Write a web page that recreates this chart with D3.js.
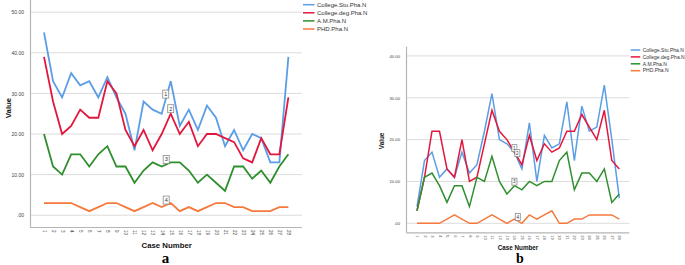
<!DOCTYPE html>
<html>
<head>
<meta charset="utf-8">
<script src="https://cdn.jsdelivr.net/npm/d3@7"></script>
<style>
  html, body { margin: 0; padding: 0; background: #fff; }
  svg { display: block; font-family: "Liberation Sans", Arial, sans-serif; }
</style>
</head>
<body>
<svg id="chart" width="685" height="265"></svg>
<script>
// Case numbers on the x axis
const cases = [1, 2, 3, 4, 5, 6, 7, 8, 9, 10, 11, 12, 13, 14, 15, 16, 17, 18, 19, 20, 21, 22, 23, 24, 25, 26, 27, 28];
const seriesNames = ['College.Stu.Pha.N', 'College.deg.Pha.N', 'A.M.Pha.N', 'PHD.Pha.N'];
const seriesColors = ['#5b9ee6', '#e3173e', '#2f8f2f', '#f6793c'];

// Panel a
const stuA = [45, 33, 29, 35, 32, 33, 29, 34, 29, 25, 16, 28, 26, 25, 33, 22, 26, 21, 27, 24, 17, 21, 16, 20, 19, 13, 13, 39];
const degA = [39, 28, 20, 22, 26, 24, 24, 33, 30, 21, 17, 21, 16, 20, 25, 20, 23, 17, 20, 20, 19, 18, 14, 13, 19, 15, 15, 29];
const amA  = [20, 12, 10, 15, 15, 12, 15, 17, 12, 12, 8, 11, 13, 12, 13, 13, 11, 8, 10, 8, 6, 12, 12, 9, 11, 8, 12, 15];
const phdA = [3, 3, 3, 3, 2, 1, 2, 3, 3, 2, 1, 2, 3, 2, 3, 1, 2, 1, 2, 3, 3, 2, 2, 1, 1, 1, 2, 2];
const ticksA = [0, 10, 20, 30, 40, 50];

// Panel b
const stuB = [4, 15, 17, 11, 13, 11, 17, 12, 14, 22, 31, 20, 19, 17, 13, 24, 10, 21, 18, 19, 29, 15, 28, 22, 23, 33, 20, 6];
const degB = [3, 11, 22, 22, 13, 11, 20, 10, 11, 19, 27, 22, 20, 17, 14, 21, 15, 19, 17, 18, 22, 22, 26, 23, 20, 27, 15, 13];
const amB  = [3, 11, 12, 9, 5, 9, 9, 4, 11, 10, 16, 10, 7, 9, 8, 10, 9, 10, 10, 15, 17, 8, 12, 12, 10, 13, 5, 7];
const phdB = [0, 0, 0, 0, 1, 2, 1, 0, 0, 1, 2, 1, 0, 1, 0, 2, 1, 2, 3, 0, 0, 1, 1, 2, 2, 2, 2, 1];
const ticksB = [0, 10, 20, 30, 40];

// where the little SPSS line labels sit (case position along each line)
const labelCasesA = [14.45, 15, 14.5, 14.5];
const labelCasesB = [14, 14.4, 14, 14.45];

const svg = d3.select('#chart');

function drawPanel(opt) {
  const g = svg.append('g');
  const x = d3.scaleLinear().domain([1, 28]).range([opt.x0, opt.x1]);
  const y = d3.scaleLinear().domain(opt.yDomain).range([opt.bottom, opt.top]);

  // gridlines
  g.selectAll('.grid').data(opt.ticks).enter().append('line')
    .attr('x1', opt.left).attr('x2', opt.right)
    .attr('y1', d => y(d)).attr('y2', d => y(d))
    .attr('stroke', '#dcdcdc').attr('stroke-width', 1);

  // axes lines
  g.append('line')
    .attr('x1', opt.left + 0.5).attr('x2', opt.left + 0.5)
    .attr('y1', opt.top).attr('y2', opt.bottom)
    .attr('stroke', '#b5b5b5').attr('stroke-width', 1.2);
  g.append('line')
    .attr('x1', opt.left).attr('x2', opt.right)
    .attr('y1', opt.bottom + 0.5).attr('y2', opt.bottom + 0.5)
    .attr('stroke', '#b5b5b5').attr('stroke-width', 1.2);

  // y tick labels
  const yAxis = g.append('g')
    .attr('transform', `translate(${opt.left - 3},0)`)
    .call(d3.axisLeft(y).tickValues(opt.ticks).tickSize(0)
      .tickFormat(d => d === 0 ? '.00' : d.toFixed(2)));
  yAxis.select('.domain').remove();
  yAxis.selectAll('text')
    .attr('font-family', '"Liberation Sans", Arial, sans-serif')
    .attr('font-size', opt.tickFont + 'px').attr('fill', '#444').attr('dx', 0);

  // x tick labels (rotated)
  const xAxis = g.append('g')
    .attr('transform', `translate(0,${opt.bottom})`)
    .call(d3.axisBottom(x).tickValues(cases).tickSize(0).tickFormat(d3.format('d')));
  xAxis.select('.domain').remove();
  xAxis.selectAll('text')
    .attr('font-family', '"Liberation Sans", Arial, sans-serif')
    .attr('font-size', opt.xTickFont + 'px').attr('fill', '#444')
    .attr('transform', 'rotate(90)')
    .attr('text-anchor', 'start')
    .attr('x', opt.xTickGap).attr('y', 0).attr('dy', '0.35em');

  // lines
  const line = d3.line().x((d, i) => x(cases[i])).y(d => y(d));
  opt.series.forEach((vals, si) => {
    g.append('path')
      .datum(vals)
      .attr('d', line)
      .attr('fill', 'none')
      .attr('stroke', seriesColors[si])
      .attr('stroke-width', opt.lineWidth)
      .attr('stroke-linejoin', 'miter');
  });

  // line labels 1..4
  opt.series.forEach((vals, si) => {
    const c = opt.labelCases[si];
    const i0 = Math.floor(c) - 1, t = c - Math.floor(c);
    const v = vals[i0] + (vals[Math.min(i0 + 1, vals.length - 1)] - vals[i0]) * t;
    const lx = x(c), ly = y(v) - opt.labelLift;
    const lab = g.append('g').attr('transform', `translate(${lx},${ly})`);
    lab.append('rect')
      .attr('x', -opt.labelW / 2).attr('y', -opt.labelH / 2)
      .attr('width', opt.labelW).attr('height', opt.labelH)
      .attr('fill', '#fff').attr('stroke', '#8a8a8a').attr('stroke-width', 0.8);
    lab.append('text')
      .attr('text-anchor', 'middle').attr('dy', '0.35em')
      .attr('font-size', opt.labelFont + 'px').attr('fill', '#333')
      .text(si + 1);
  });

  // axis titles
  g.append('text')
    .attr('transform', `translate(${opt.yTitleX},${opt.yTitleY}) rotate(-90)`)
    .attr('text-anchor', 'middle')
    .attr('font-size', opt.titleFont + 'px').attr('font-weight', 'bold').attr('fill', '#111')
    .text('Value');
  g.append('text')
    .attr('x', opt.xTitleX).attr('y', opt.xTitleY)
    .attr('text-anchor', 'middle')
    .attr('font-size', opt.titleFont + 'px').attr('font-weight', 'bold').attr('fill', '#111')
    .text('Case Number');

  // panel letter
  g.append('text')
    .attr('x', opt.letterX).attr('y', opt.letterY)
    .attr('text-anchor', 'middle')
    .attr('font-family', '"Liberation Serif", "Times New Roman", serif')
    .attr('font-size', opt.letterFont + 'px').attr('font-weight', 'bold').attr('fill', '#000')
    .text(opt.letter);

  // legend
  const leg = g.append('g').attr('transform', `translate(${opt.legX},${opt.legY})`);
  seriesNames.forEach((name, si) => {
    const row = leg.append('g').attr('transform', `translate(0,${si * opt.legStep})`);
    row.append('line')
      .attr('x1', 0).attr('x2', opt.legLine)
      .attr('stroke', seriesColors[si]).attr('stroke-width', 1.5);
    row.append('text')
      .attr('x', opt.legLine + 2.5).attr('dy', '0.35em')
      .attr('font-size', opt.legFont + 'px').attr('fill', '#333')
      .text(name);
  });
}

drawPanel({
  series: [stuA, degA, amA, phdA], ticks: ticksA, labelCases: labelCasesA,
  left: 30, right: 302, top: 0, bottom: 227, x0: 44, x1: 288.4, yDomain: [-2.9, 53],
  tickFont: 5, xTickFont: 4.6, xTickGap: 3, lineWidth: 1.8,
  labelW: 6, labelH: 8, labelFont: 5.5, labelLift: 5,
  titleFont: 7.8, yTitleX: 11, yTitleY: 108, xTitleX: 166.7, xTitleY: 248,
  letter: 'a', letterX: 165.5, letterY: 262.5, letterFont: 15,
  legX: 303, legY: 4.7, legStep: 8.1, legLine: 11.5, legFont: 6
});

drawPanel({
  series: [stuB, degB, amB, phdB], ticks: ticksB, labelCases: labelCasesB,
  left: 406, right: 629.3, top: 46.7, bottom: 232.3, x0: 417, x1: 619.3, yDomain: [-2.15, 42.2],
  tickFont: 4.2, xTickFont: 4, xTickGap: 3, lineWidth: 1.5,
  labelW: 5, labelH: 7, labelFont: 4.6, labelLift: 4,
  titleFont: 6.3, yTitleX: 384, yTitleY: 141, xTitleX: 518, xTitleY: 250,
  letter: 'b', letterX: 520, letterY: 263, letterFont: 14,
  legX: 630.7, legY: 50, legStep: 6.9, legLine: 9.5, legFont: 5
});
</script>
</body>
</html>
